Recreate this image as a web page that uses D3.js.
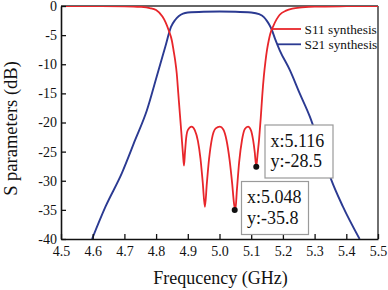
<!DOCTYPE html>
<html>
<head>
<meta charset="utf-8">
<script src="https://cdn.jsdelivr.net/npm/d3@7"></script>
</head>
<body style="margin:0;padding:0;background:#fff">
<svg id="chart" width="388" height="290" style="display:block"></svg>
<script>
// ---- data ----
const xTicks = [4.5,4.6,4.7,4.8,4.9,5.0,5.1,5.2,5.3,5.4,5.5];
const yTicks = [0,-5,-10,-15,-20,-25,-30,-35,-40];
const xTickLabels = ["4.5","4.6","4.7","4.8","4.9","5.0","5.1","5.2","5.3","5.4","5.5"];

const s11Freq = [4.50,4.60,4.70,4.75,4.78,4.80,4.82,4.83,4.84,4.85,4.855,4.86,4.865,4.87,4.875,4.88,4.885,4.888,4.891,4.895,4.90,4.912,4.922,4.932,4.94,4.947,4.954,4.96,4.967,4.976,4.988,5.001,5.012,5.022,5.032,5.04,5.046,5.050,5.055,5.062,5.071,5.08,5.09,5.099,5.106,5.111,5.116,5.12,5.125,5.13,5.135,5.14,5.145,5.15,5.155,5.16,5.17,5.18,5.19,5.21,5.23,5.26,5.30,5.40,5.50];
const s11dB   = [0,0,-0.05,-0.15,-0.35,-0.7,-1.8,-2.8,-4.2,-6.0,-7.6,-9.3,-11.5,-15,-18.5,-22,-25.6,-27.4,-25.2,-22.6,-21.3,-20.7,-21.3,-23.2,-26.2,-30.2,-34.5,-30.5,-26.3,-22.8,-21.0,-20.7,-21.2,-23.0,-26.5,-30.5,-34.0,-35.0,-31.5,-26.8,-23.0,-21.1,-20.7,-21.3,-23.0,-25.0,-27.6,-25.5,-22.8,-19.3,-15.3,-12.0,-9.5,-7.5,-6.0,-4.8,-3.4,-2.3,-1.5,-0.8,-0.45,-0.25,-0.1,-0.03,0];

const s21Freq = [4.598,4.64,4.692,4.734,4.771,4.802,4.829,4.847,4.86,4.872,4.885,4.90,4.95,5.00,5.05,5.10,5.125,5.14,5.15,5.158,5.164,5.175,5.19,5.222,5.253,5.285,5.321,5.353,5.389,5.442];
const s21dB   = [-40,-34.5,-28.7,-23.0,-17.9,-12.1,-7.0,-3.6,-2.4,-1.7,-1.3,-1.12,-0.98,-0.95,-0.98,-1.12,-1.4,-1.9,-2.6,-3.3,-3.95,-5.6,-7.6,-11,-15,-19,-24.7,-29.9,-34.4,-40];

const seriesNames = ["S11 synthesis","S21 synthesis"];
const markerFreq = [5.116,5.048];
const markerdB = [-27.6,-35.0];
const markerTextX = ["x:5.116","x:5.048"];
const markerTextY = ["y:-28.5","y:-35.8"];

const xTitle = "Frequcency (GHz)";
const yTitle = "S parameters (dB)";

// ---- layout ----
const FONT = '"Liberation Serif"';
const L = 61, R = 378, T = 6, B = 239;
const colors = ["#e8262b","#2b3a92"];

const svg = d3.select("#chart").style("font-family",FONT);
const x = d3.scaleLinear().domain([4.5,5.5]).range([L,R]);
const y = d3.scaleLinear().domain([-40,0]).range([B,T]);

svg.append("defs").append("clipPath").attr("id","clip")
  .append("rect").attr("x",L).attr("y",T).attr("width",R-L).attr("height",B-T);

// frame top/right
svg.append("line").attr("x1",L).attr("x2",R).attr("y1",T).attr("y2",T).attr("stroke","#333").attr("stroke-width",1.6);
svg.append("line").attr("x1",R).attr("x2",R).attr("y1",T).attr("y2",B).attr("stroke","#333").attr("stroke-width",1.4);

// curves
const s11 = s11Freq.map((f,i)=>[f,s11dB[i]]);
const s21 = s21Freq.map((f,i)=>[f,s21dB[i]]);
const line = d3.line().x(d=>x(d[0])).y(d=>y(d[1])).curve(d3.curveMonotoneX);
const g = svg.append("g").attr("clip-path","url(#clip)");
g.append("path").datum(s21).attr("d",line).attr("fill","none").attr("stroke",colors[1]).attr("stroke-width",1.9);
g.append("path").datum(s11).attr("d",line).attr("fill","none").attr("stroke",colors[0]).attr("stroke-width",1.8);

// axes
const xAxis = d3.axisBottom(x).tickValues(xTicks).tickFormat((d,i)=>xTickLabels[i]).tickSizeInner(-5).tickSizeOuter(0).tickPadding(7);
const yAxis = d3.axisLeft(y).tickValues(yTicks).tickFormat(d=>d===0?"0":String(d)).tickSizeInner(-5).tickSizeOuter(0).tickPadding(4);
const gx = svg.append("g").attr("transform",`translate(0,${B})`).call(xAxis);
const gy = svg.append("g").attr("transform",`translate(${L},0)`).call(yAxis);
[gx,gy].forEach(a=>{
  a.attr("font-family",null).attr("font-size",null);
  a.select(".domain").attr("stroke","#111").attr("stroke-width",1.6);
  a.selectAll(".tick line").attr("stroke","#111").attr("stroke-width",1.3);
  a.selectAll(".tick text").style("font-size","14px").style("font-family",FONT).attr("fill","#111");
});

function txt(sel){ return sel.style("font-family",FONT).attr("fill","#111"); }

// titles
txt(svg.append("text")).attr("x",(L+R)/2+1).attr("y",283.5).attr("text-anchor","middle").style("font-size","18px").text(xTitle);
txt(svg.append("text")).attr("transform",`translate(17,${128.5}) rotate(-90)`).attr("text-anchor","middle").style("font-size","18.5px").text(yTitle);

// legend-like annotations
const legY = [29,44.3];
const legX1 = [x(5.164), x(5.182)];
seriesNames.forEach((name,i)=>{
  svg.append("line").attr("x1",legX1[i]).attr("x2",301).attr("y1",legY[i]).attr("y2",legY[i]).attr("stroke",colors[i]).attr("stroke-width",1.8);
  txt(svg.append("text")).attr("x",304.5).attr("y",legY[i]+4.5).style("font-size","13.3px").text(name);
});

// data markers with boxes
const boxes = [{x:265,y:125,w:68,h:53},{x:241.5,y:181.5,w:67,h:53}];
markerFreq.forEach((f,i)=>{
  const b = boxes[i];
  svg.append("rect").attr("x",b.x).attr("y",b.y).attr("width",b.w).attr("height",b.h)
    .attr("fill","#fff").attr("stroke","#9a9a9a").attr("stroke-width",1.2);
  txt(svg.append("text")).attr("x",b.x+5.5).attr("y",b.y+21.5).style("font-size","18px").text(markerTextX[i]);
  txt(svg.append("text")).attr("x",b.x+5.5).attr("y",b.y+42).style("font-size","18px").text(markerTextY[i]);
  svg.append("circle").attr("cx",x(f)).attr("cy",y(markerdB[i])).attr("r",3).attr("fill","#111");
});
</script>
</body>
</html>
